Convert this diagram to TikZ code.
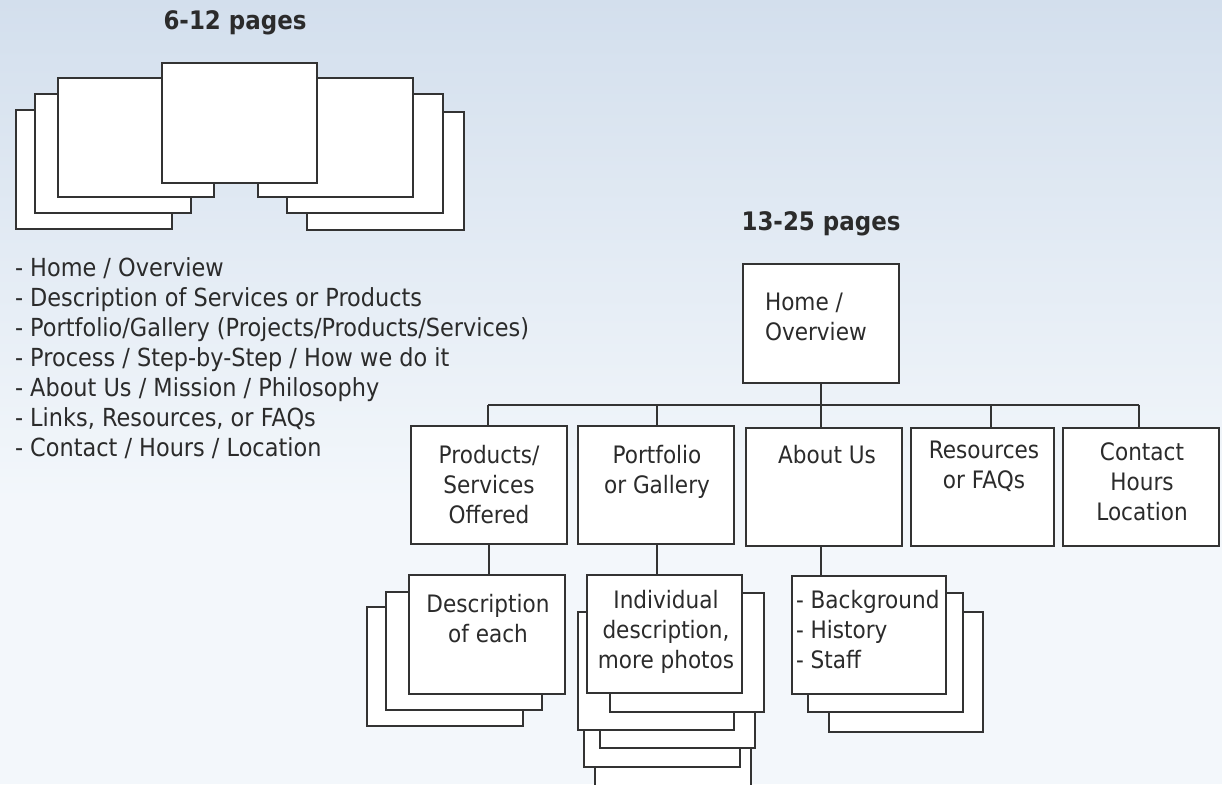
\documentclass[tikz,border=0pt]{standalone}
\usepackage{fontspec}
\setmainfont{DejaVu Sans}[FakeStretch=0.9]
\definecolor{bgtop}{HTML}{D3DFED}
\definecolor{bgbot}{HTML}{F3F7FB}
\definecolor{linec}{HTML}{333333}
\definecolor{textc}{HTML}{2B2B2B}
\newcommand\mystrut{\rule{0pt}{19pt}}
\tikzset{
  pagebox/.style={draw=linec, fill=white, line width=2.5pt},
  box/.style={draw=linec, fill=white, line width=2.5pt, inner sep=0pt, outer sep=0pt},
  conn/.style={draw=linec, line width=2.4pt},
  txt/.style={font=\fontsize{24}{30}\selectfont, text=textc, inner sep=0pt, outer sep=0pt},
  ttl/.style={font=\fontsize{25.5}{30}\selectfont\bfseries, text=textc, inner sep=0pt},
}
\begin{document}
\begin{tikzpicture}[x=1pt,y=-1pt]
\useasboundingbox (0,0) rectangle (1222,784);
% background
\shade[top color=bgtop, bottom color=bgbot] (0,0) rectangle (1222,500);
\fill[bgbot] (0,500) rectangle (1222,784);

% ---- 6-12 pages ----
\node[ttl, anchor=base] (t1) at (235,30) {6-12 pages};
\draw[pagebox] (16,110) rectangle (172,229);
\draw[pagebox] (35,94) rectangle (191,213);
\draw[pagebox] (58,78) rectangle (214,197);
\draw[pagebox] (307,112) rectangle (464,230);
\draw[pagebox] (287,94) rectangle (443,213);
\draw[pagebox] (258,78) rectangle (413,197);
\draw[pagebox] (162,63) rectangle (317,183);

\node[txt, font=\fontsize{24.9}{30}\selectfont, anchor=north west, align=left] (list) at (15,257)
 {\mystrut- Home / Overview\\
  - Description of Services or Products\\
  - Portfolio/Gallery (Projects/Products/Services)\\
  - Process / Step-by-Step / How we do it\\
  - About Us / Mission / Philosophy\\
  - Links, Resources, or FAQs\\
  - Contact / Hours / Location};

% ---- 13-25 pages ----
\node[ttl, anchor=base] (t2) at (821,230) {13-25 pages};

\node[box, minimum width=156pt, minimum height=119pt] (home) at (821,323.5) {};
\node[txt, anchor=north west, align=left] (homet) at (765,291) {\mystrut Home /\\Overview};

\node[box, minimum width=156pt, minimum height=118pt] (prod) at (489,485) {};
\node[box, minimum width=156pt, minimum height=118pt] (port) at (656,485) {};
\node[box, minimum width=156pt, minimum height=118pt] (about) at (824,487) {};
\node[box, minimum width=143pt, minimum height=118pt] (res) at (982.5,487) {};
\node[box, minimum width=156pt, minimum height=118pt] (cont) at (1141,487) {};

\node[txt, anchor=north, align=center] (prodt) at (489,444) {\mystrut Products/\\Services\\Offered};
\node[txt, anchor=north, align=center] (portt) at (657,444) {\mystrut Portfolio\\or Gallery};
\node[txt, anchor=north, align=center] (aboutt) at (827,444) {\mystrut About Us};
\node[txt, anchor=north, align=center] (rest) at (984,439) {\mystrut Resources\\or FAQs};
\node[txt, anchor=north, align=center] (contt) at (1142,441) {\mystrut Contact\\Hours\\Location};

% bus
\coordinate (b1) at (488,405);
\coordinate (b2) at (657,405);
\coordinate (b4) at (991,405);
\coordinate (b5) at (1139,405);
\draw[conn] (home.south) -- (home.south |- b1);
\draw[conn] (b1) -- (b5);
\draw[conn] (b1) -- (b1 |- prod.north);
\draw[conn] (b2) -- (b2 |- port.north);
\draw[conn] (home.south |- b1) -- (home.south |- about.north);
\draw[conn] (b4) -- (b4 |- res.north);
\draw[conn] (b5) -- (b5 |- cont.north);

% ---- level 3: description stack ----
\draw[pagebox] (367,607) rectangle (523,726);
\draw[pagebox] (386,592) rectangle (542,710);
\node[box, minimum width=156pt, minimum height=119pt] (desc) at (487,634.5) {};
\node[txt, anchor=north, align=center] (desct) at (488,593) {\mystrut Description\\of each};

% ---- level 3: individual stack ----
\draw[pagebox] (595,666) rectangle (751,800);
\draw[pagebox] (584,648) rectangle (740,767);
\draw[pagebox] (600,630) rectangle (755,748);
\draw[pagebox] (578,612) rectangle (734,730);
\draw[pagebox] (610,593) rectangle (764,712);
\node[box, minimum width=155pt, minimum height=118pt] (ind) at (664.5,634) {};
\node[txt, anchor=north, align=center] (indt) at (666,589) {\mystrut Individual\\description,\\more photos};

% ---- level 3: about stack ----
\draw[pagebox] (829,612) rectangle (983,732);
\draw[pagebox] (808,593) rectangle (963,712);
\node[box, minimum width=154pt, minimum height=118pt] (bio) at (869,635) {};
\node[txt, anchor=north west, align=left] (biot) at (796,589) {\mystrut - Background\\- History\\- Staff};

% level 3 connectors
\draw[conn] (prod.south) -- (prod.south |- desc.north);
\draw[conn] (port.south -| b2) -- (b2 |- ind.north);
\draw[conn] (about.south -| home.south) -- (home.south |- bio.north);
\end{tikzpicture}
\end{document}
